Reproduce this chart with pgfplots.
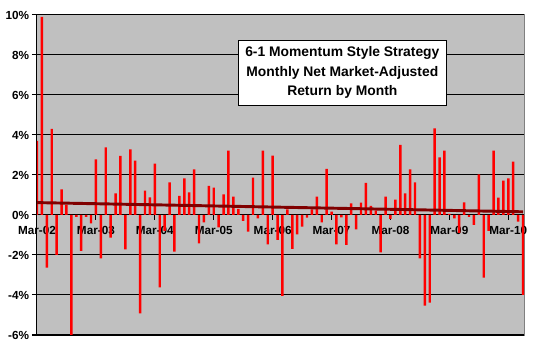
\documentclass[border=0pt]{standalone}
\usepackage{fontspec}
\setmainfont{Liberation Sans}
\usepackage{pgfplots}
\usepackage{pgfplotstable}
\pgfplotsset{compat=1.18}
\definecolor{plotgray}{RGB}{192,192,192}
\definecolor{framegray}{RGB}{128,128,128}
\definecolor{trendred}{RGB}{128,0,0}
\pgfplotstableread{
idx ret
0 3.7
1 9.9
2 -2.63
3 4.3
4 -2.0
5 1.28
6 0.5
7 -6.0
8 -0.1
9 -1.8
10 -0.1
11 -0.42
12 2.78
13 -2.17
14 3.38
15 -1.13
16 1.08
17 2.95
18 -1.72
19 3.28
20 2.72
21 -4.92
22 1.22
23 0.88
24 2.57
25 -3.62
26 -0.8
27 1.63
28 -1.83
29 0.95
30 1.83
31 1.13
32 2.28
33 -1.42
34 -0.37
35 1.45
36 1.37
37 -0.62
38 1.03
39 3.22
40 0.92
41 0.3
42 -0.3
43 -0.83
44 1.87
45 -0.17
46 3.22
47 -1.47
48 2.97
49 -1.25
50 -4.05
51 0.28
52 -1.7
53 -0.97
54 -0.58
55 -0.13
56 0.28
57 0.92
58 -0.37
59 2.3
60 0.17
61 -1.47
62 -0.12
63 -1.5
64 0.58
65 -0.72
66 0.62
67 1.6
68 0.45
69 0.23
70 -1.87
71 0.92
72 -0.2
73 0.77
74 3.5
75 1.08
76 2.28
77 1.63
78 -2.17
79 -4.53
80 -4.38
81 4.33
82 2.88
83 3.22
84 0.05
85 -0.17
86 -0.9
87 0.63
88 -0.1
89 -0.5
90 2.03
91 -3.13
92 -0.8
93 3.22
94 0.87
95 1.72
96 1.83
97 2.67
98 -0.33
99 -4.0
}\returns
\pgfplotstableread{
idx trend
0 0.62
99 0.16
}\trend
\begin{document}
\begin{tikzpicture}[x=1pt,y=1pt]
\path[use as bounding box] (-27.75,-11.25) rectangle (384.75,251.25);
\begin{axis}[
  at={(0,0)}, anchor=south west,
  scale only axis, width=365.25pt, height=240pt,
  xmin=0, xmax=99.2, ymin=-6, ymax=10,
  axis x line=middle, axis y line=left,
  axis line style={-, black, line width=0.75pt},
  axis background/.style={fill=plotgray, draw=framegray, line width=0.75pt},
  hide obscured x ticks=false,
  ytick={-6,-4,...,10},
  xtick={0,12,...,96},
  xticklabels={Mar-02,Mar-03,Mar-04,Mar-05,Mar-06,Mar-07,Mar-08,Mar-09,Mar-10},
  ymajorgrids,
  major grid style={black, line width=0.75pt},
  tick style={black, line width=0.75pt},
  major tick length=3.75pt,
  tick align=outside,
  /pgf/number format/assume math mode=true,
  yticklabel={\pgfmathprintnumber{\tick}\%},
  ticklabel style={font=\fontsize{8.8}{10}\selectfont\bfseries},
  xticklabel style={inner sep=1.5pt, yshift=-3pt},
  yticklabel style={inner sep=2pt},
]
\addplot[ybar, bar width=0.5, fill=red, draw=none] table[x=idx, y=ret] {\returns};
\addplot[color=trendred, line width=2.2pt, no markers] table[x=idx, y=trend] {\trend};
\node[draw=black, fill=white, line width=0.75pt, minimum width=156pt, minimum height=48.75pt,
  align=center, inner sep=1pt, font=\fontsize{10.4}{14.6}\selectfont\bfseries]
  at (rel axis cs:0.627,0.820) {6-1 Momentum Style Strategy\\Monthly Net Market-Adjusted\\Return by Month};
\end{axis}
\end{tikzpicture}
\end{document}
